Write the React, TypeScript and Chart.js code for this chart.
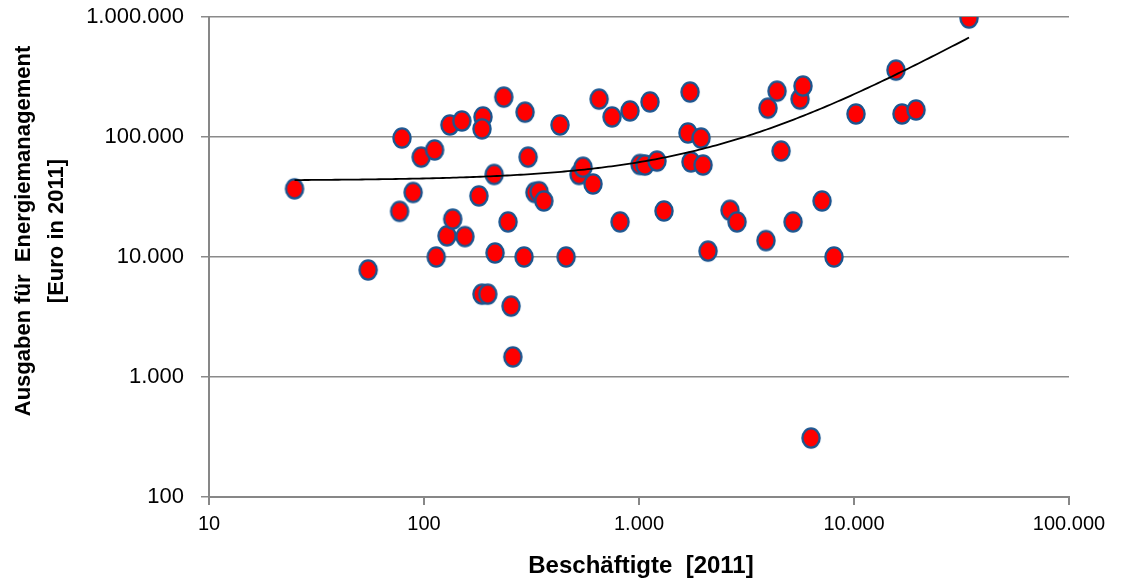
import React, { useEffect, useRef } from 'react';
import { Chart, registerables } from 'chart.js';

Chart.register(...registerables);

// Employees (x) and energy-management spending in Euro (y)
const EMPLOYEES = [
  25, 55, 79, 77, 89, 97, 112, 114, 128, 132, 136, 150, 155, 180, 188, 186, 186, 198,
  212, 214, 235, 246, 254, 259, 295, 292, 305, 328, 343, 361, 429, 458, 526, 549, 611,
  652, 749, 816, 908, 1125, 1011, 1066, 1212, 1307, 1690, 1727, 1745, 1943, 1985, 2094,
  2650, 2857, 3896, 3981, 4385, 4577, 5204, 5609, 5791, 6310, 7099, 8072, 10216, 15680,
  16720, 19430, 34270,
];
const SPENDING = [
  37000, 7800, 98000, 24000, 34500, 68000, 78000, 10000, 15000, 126000, 20700, 136000,
  14800, 32300, 147000, 117000, 4900, 4900, 48700, 10800, 215000, 19600, 3900, 1470,
  161000, 10000, 68000, 34500, 35000, 29300, 126000, 10000, 48700, 56000, 40600, 207000,
  147000, 19600, 165000, 196000, 59000, 58400, 63000, 24200, 108000, 237000, 62000, 98000,
  58400, 11200, 24500, 19600, 13700, 174000, 241000, 76400, 19600, 207000, 266000, 310,
  29300, 10000, 155500, 361000, 155500, 168000, 980000,
];

const X_TICKS = [10, 100, 1000, 10000, 100000];
const Y_TICKS = [100, 1000, 10000, 100000, 1000000];
const X_TITLE = 'Beschäftigte  [2011]';
const Y_TITLE = ['Ausgaben für  Energiemanagement', '[Euro in 2011]'];

// Linear trend line (y = a + b·x) as shown in the picture
const TREND_INTERCEPT = 43300;
const TREND_SLOPE = 18.4;

const FONT = '"Liberation Sans", Arial, sans-serif';

function fmt(v: number): string {
  return Math.round(v).toString().replace(/\B(?=(\d{3})+(?!\d))/g, '.');
}

function makeMarker(): HTMLCanvasElement {
  const c = document.createElement('canvas');
  c.width = 22;
  c.height = 24;
  const ctx = c.getContext('2d')!;
  ctx.beginPath();
  ctx.ellipse(11, 12, 8.6, 9.6, 0, 0, Math.PI * 2);
  ctx.fillStyle = '#ff0000';
  ctx.fill();
  ctx.lineWidth = 2.3;
  ctx.strokeStyle = '#1b5690';
  ctx.stroke();
  return c;
}

const titlesPlugin = {
  id: 'axisTitles',
  afterDraw(chart: any) {
    const ctx = chart.ctx as CanvasRenderingContext2D;
    ctx.save();
    ctx.fillStyle = '#000';
    ctx.textAlign = 'center';
    ctx.textBaseline = 'middle';
    ctx.font = `bold 24px ${FONT}`;
    ctx.fillText(X_TITLE, 641, 566);
    ctx.font = `bold 22px ${FONT}`;
    ctx.translate(24, 231);
    ctx.rotate(-Math.PI / 2);
    ctx.fillText(Y_TITLE[0], 0, 0);
    ctx.fillText(Y_TITLE[1], 0, 33);
    ctx.restore();
  },
};

export default function App() {
  const ref = useRef<HTMLCanvasElement | null>(null);

  useEffect(() => {
    if (!ref.current) return;
    const points = EMPLOYEES.map((x, i) => ({ x, y: SPENDING[i] }));
    const xMin = Math.min(...EMPLOYEES);
    const xMax = Math.max(...EMPLOYEES);
    const N = 200;
    const trend: { x: number; y: number }[] = [];
    for (let i = 0; i <= N; i++) {
      const x = xMin * Math.pow(xMax / xMin, i / N);
      trend.push({ x, y: TREND_INTERCEPT + TREND_SLOPE * x });
    }
    const marker = makeMarker();

    const chart = new Chart(ref.current, {
      type: 'scatter',
      data: {
        datasets: [
          {
            type: 'line',
            data: trend,
            borderColor: '#000',
            borderWidth: 1.8,
            pointRadius: 0,
            fill: false,
            tension: 0,
            order: 0,
          } as any,
          {
            data: points,
            pointStyle: marker as any,
            pointRadius: 9,
            order: 1,
          },
        ],
      },
      options: {
        animation: false,
        responsive: false,
        events: [],
        layout: { padding: { top: 17, right: 52, left: 0, bottom: 0 } },
        plugins: { legend: { display: false }, tooltip: { enabled: false } },
        scales: {
          x: {
            type: 'logarithmic',
            min: 10,
            max: 100000,
            afterBuildTicks: (s: any) => {
              s.ticks = X_TICKS.map((v) => ({ value: v }));
            },
            afterFit: (s: any) => {
              s.height = 86;
              s.paddingLeft = 0;
              s.paddingRight = 0;
            },
            ticks: {
              callback: (v: any) => fmt(Number(v)),
              autoSkip: false,
              maxRotation: 0,
              color: '#000',
              padding: 7,
              font: { family: FONT, size: 20 },
            },
            grid: {
              drawOnChartArea: false,
              drawTicks: true,
              tickLength: 8,
              color: '#878787',
              lineWidth: 2,
            },
            border: { display: true, color: '#878787', width: 2 },
          },
          y: {
            type: 'logarithmic',
            min: 100,
            max: 1000000,
            afterBuildTicks: (s: any) => {
              s.ticks = Y_TICKS.map((v) => ({ value: v }));
            },
            afterFit: (s: any) => {
              s.width = 209;
              s.paddingTop = 0;
              s.paddingBottom = 0;
            },
            ticks: {
              callback: (v: any) => fmt(Number(v)),
              autoSkip: false,
              color: '#000',
              padding: 17,
              font: { family: FONT, size: 22 },
            },
            grid: {
              drawOnChartArea: true,
              drawTicks: true,
              tickLength: 8,
              color: '#8a8a8a',
              lineWidth: 1.5,
            },
            border: { display: true, color: '#878787', width: 2 },
          },
        },
      },
      plugins: [titlesPlugin],
    });
    return () => chart.destroy();
  }, []);

  return (
    <div style={{ position: 'absolute', left: 0, top: 0, width: 1121, height: 583, background: '#fff' }}>
      <canvas ref={ref} width={1121} height={583} style={{ display: 'block' }} />
    </div>
  );
}
